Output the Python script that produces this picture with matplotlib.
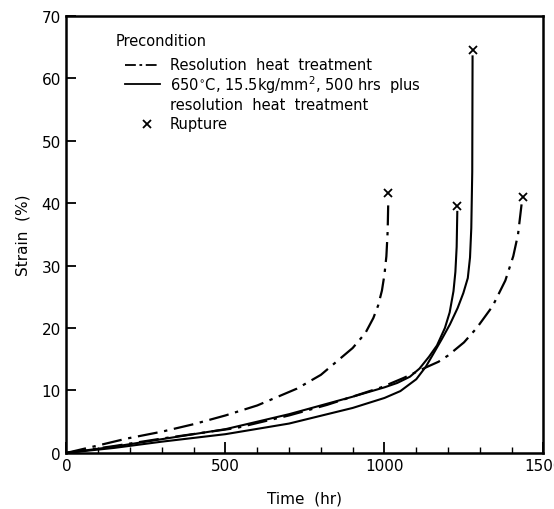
import matplotlib
matplotlib.use("Agg")
from matplotlib import pyplot as plt
from matplotlib.ticker import MultipleLocator

# dash-dot curves: resolution heat treatment
t_a = [0, 100, 190, 300, 400, 500, 600, 725, 800, 900, 940, 965, 980, 992, 1000, 1006, 1010, 1012]
s_a = [0, 1.2, 2.3, 3.4, 4.6, 6.0, 7.6, 10.3, 12.5, 16.8, 19.2, 21.6, 23.6, 26, 28.6, 31.5, 35.5, 40.5]
t_b = [0, 150, 300, 535, 700, 820, 990, 1060, 1135, 1170, 1200, 1250, 1290, 1340, 1380, 1405, 1420, 1432]
s_b = [0, 1.1, 2.3, 4.0, 6.0, 7.7, 10.5, 12.0, 13.8, 14.6, 15.6, 17.7, 20, 23.5, 27.6, 31.5, 35, 40.2]

# solid curves: 650C, 15.5kg/mm2, 500 hrs + resolution heat treatment
t_c = [0, 150, 300, 500, 700, 900, 1000, 1040, 1080, 1110, 1140, 1165, 1190, 1205, 1217, 1223, 1227, 1229]
s_c = [0, 1.0, 2.2, 3.8, 6.2, 9.0, 10.5, 11.2, 12.2, 13.5, 15.4, 17.2, 20, 22.5, 25.9, 29, 33, 38.6]
t_d = [0, 150, 300, 500, 700, 900, 1000, 1050, 1100, 1130, 1154, 1180, 1206, 1230, 1248, 1262, 1269, 1273, 1276, 1277]
s_d = [0, 0.8, 1.8, 3.0, 4.7, 7.2, 8.8, 9.9, 11.8, 13.8, 15.9, 18.2, 20.6, 23.2, 25.6, 28, 31.3, 36, 45, 63.5]

# rupture points
rup_t = [1011, 1229, 1277, 1435]
rup_s = [41.6, 39.6, 64.6, 41.0]

plt.rcParams['font.family'] = 'DejaVu Sans'
fig = plt.figure(figsize=(5.54, 5.10), dpi=100)
ax = fig.add_axes([0.12, 0.11, 0.861, 0.857])

dd = (0, (9, 3, 1.5, 3))
ax.plot(t_a, s_a, color='black', lw=1.6, linestyle=dd)
ax.plot(t_b, s_b, color='black', lw=1.6, linestyle=dd)
ax.plot(t_c, s_c, color='black', lw=1.5)
ax.plot(t_d, s_d, color='black', lw=1.5)
ax.plot(rup_t, rup_s, 'x', color='black', ms=6, mew=1.3)

ax.set_xlim(0, 1500)
ax.set_ylim(0, 70)
ax.xaxis.set_major_locator(MultipleLocator(500))
ax.xaxis.set_minor_locator(MultipleLocator(100))
ax.yaxis.set_major_locator(MultipleLocator(10))
ax.tick_params(axis='x', which='major', direction='in', length=8, width=1.3, labelsize=11, pad=4)
ax.tick_params(axis='x', which='minor', direction='in', length=4, width=1.0)
ax.tick_params(axis='y', which='major', direction='in', length=7, width=1.3, labelsize=11, pad=4)
for sp in ax.spines.values():
    sp.set_linewidth(1.8)

ax.set_xlabel('Time  (hr)', fontsize=11, labelpad=12)
ax.set_ylabel('Strain  (%)', fontsize=11, labelpad=8)

# legend block
tr = ax.transAxes
ax.text(0.102, 0.943, 'Precondition', transform=tr, fontsize=10.5, va='center')
ax.plot([0.123, 0.196], [0.888, 0.888], transform=tr, color='black', lw=1.3, linestyle=(0, (6, 2, 1.5, 2)))
ax.text(0.217, 0.888, 'Resolution  heat  treatment', transform=tr, fontsize=10.5, va='center')
ax.plot([0.123, 0.196], [0.844, 0.844], transform=tr, color='black', lw=1.3)
ax.text(0.217, 0.844, '650$^{\\circ}$C, 15.5kg/mm$^{2}$, 500 hrs  plus', transform=tr, fontsize=10.5, va='center')
ax.text(0.217, 0.797, 'resolution  heat  treatment', transform=tr, fontsize=10.5, va='center')
ax.plot([0.168], [0.753], 'x', transform=tr, color='black', ms=6, mew=1.3)
ax.text(0.217, 0.753, 'Rupture', transform=tr, fontsize=10.5, va='center')

fig.savefig('out.png', dpi=100)
